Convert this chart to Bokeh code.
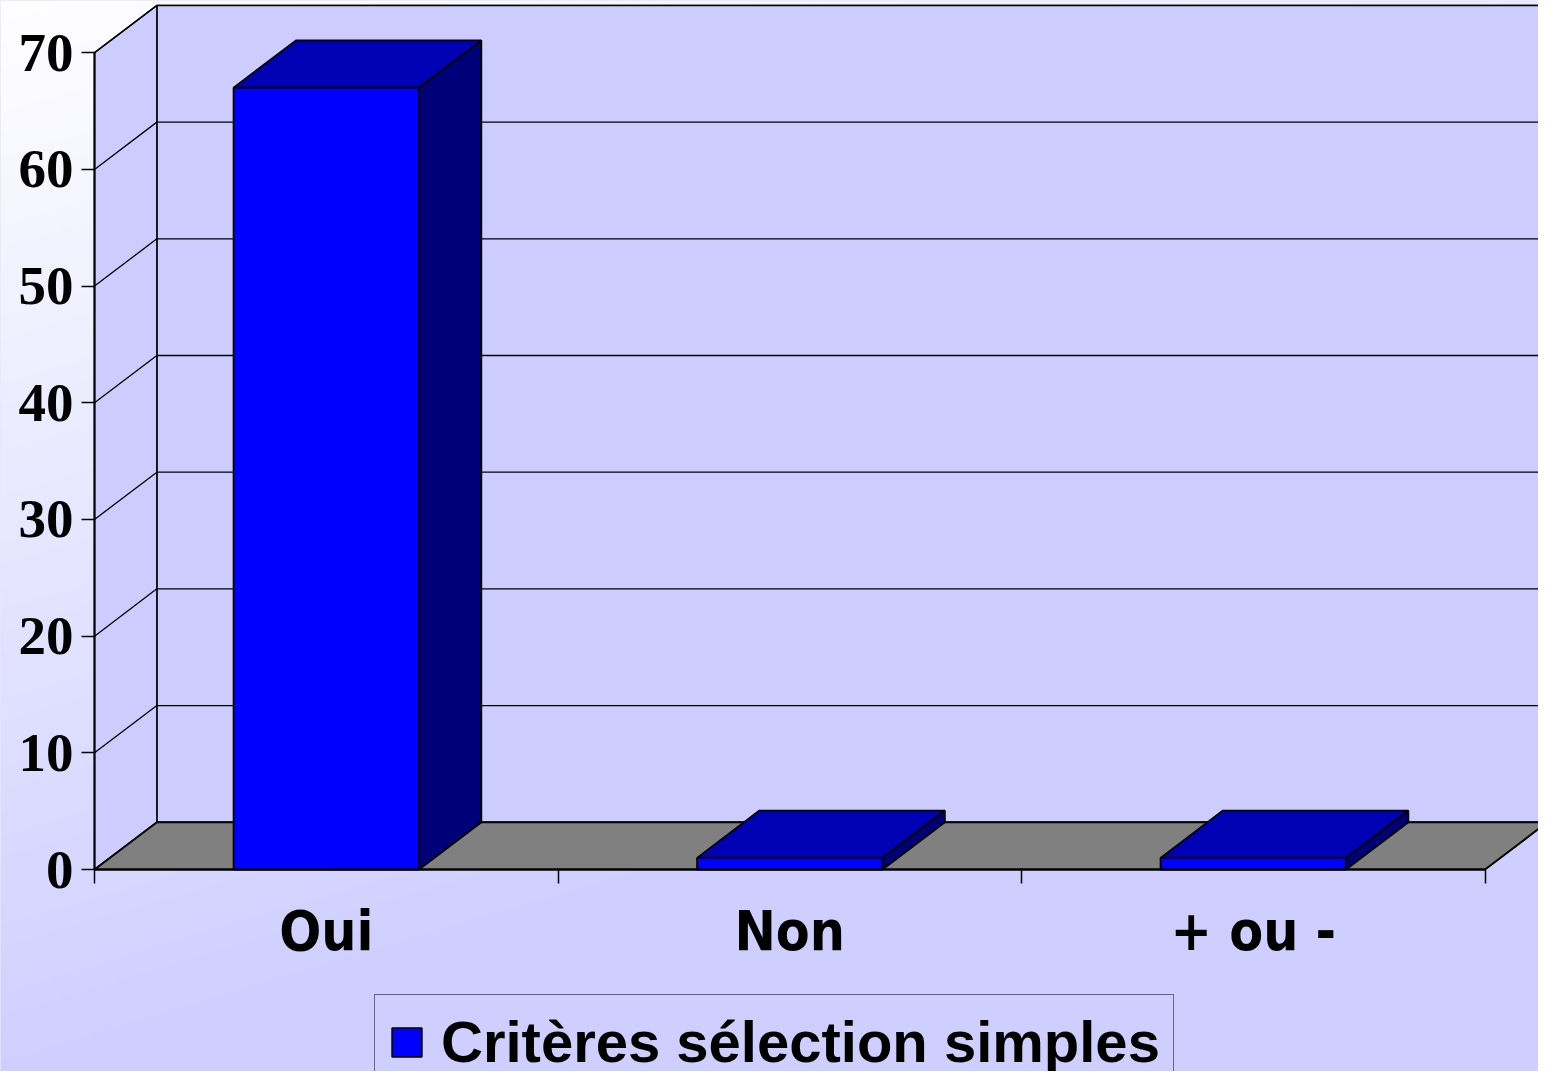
import numpy as np
from bokeh.plotting import figure
from bokeh.models import (Range1d, LinearAxis, FixedTicker, Legend, LegendItem,
                          ColumnDataSource)
from bokeh.embed import file_html
from bokeh.resources import INLINE

# ---------------- data ----------------
categories = ["Oui", "Non", "+ ou -"]
values = [67, 1, 1]
series_name = "Critères sélection simples"
y_ticks = [0, 10, 20, 30, 40, 50, 60, 70]
y_max = 70

# ---------------- geometry (in data units) ----------------
W, H = 1538, 1071          # canvas
RW, RH = 1554, 1087        # reference picture size
px_x = 1405 / 3.0          # reference pixels per category
px_y = 829 / 70.0          # reference pixels per value unit
x_start = (0 - 95) / px_x
x_end = (RW - 95) / px_x
y_top = 882 / px_y
y_start = (882 - RH) / px_y
dx = 63 / px_x             # 3D depth offset
dy = 48 / px_y
ncat = len(categories)
bar_lo, bar_hi = 0.3, 0.7

p = figure(width=W, height=H, x_range=Range1d(x_start, x_end), y_range=Range1d(y_start, y_top),
           x_axis_type=None, y_axis_type=None, toolbar_location=None, output_backend="svg",
           min_border=0, outline_line_color=None, background_fill_color="#D0D0FF",
           border_fill_color="#D0D0FF")

# ---------------- background gradient ----------------
gh, gw = 272, 389
rows = np.arange(gh)
cols = np.arange(gw)
ref_y = (gh - 1 - rows + 0.5) * (RH / gh)
ref_x = (cols + 0.5) * (RW / gw)
t = np.clip((ref_y[:, None] + 0.3 * ref_x[None, :]) / 1100.0, 0, 1)
rg = (255 - t * (255 - 207)).astype(np.uint8)
img = np.empty((gh, gw), dtype=np.uint32)
view = img.view(dtype=np.uint8).reshape((gh, gw, 4))
view[..., 0] = rg
view[..., 1] = rg
view[..., 2] = 255
view[..., 3] = 255
p.image_rgba(image=[img], x=x_start, y=y_start, dw=x_end - x_start, dh=y_top - y_start)

wall = "#CCCCFF"
# back wall
p.patch([dx, x_end + 1, x_end + 1, dx], [dy, dy, y_max + dy, y_max + dy],
        fill_color=wall, line_color="black", line_width=1.5)
# side wall
p.patch([0, 0, dx, dx], [0, y_max, y_max + dy, dy],
        fill_color=wall, line_color="black", line_width=1.5)
# floor
p.patch([0, ncat, ncat + dx, dx], [0, 0, dy, dy],
        fill_color="#808080", line_color="black", line_width=2)

# gridlines on walls
gx, gy = [], []
for v in y_ticks[1:]:
    gx.append([0, dx, x_end + 1])
    gy.append([v, v + dy, v + dy])
p.multi_line(gx, gy, line_color="black", line_width=1.3)

# ---------------- 3D bars ----------------
left = [i + bar_lo for i in range(ncat)]
right = [i + bar_hi for i in range(ncat)]
side_xs = [[r, r + dx, r + dx, r] for r in right]
side_ys = [[0, dy, v + dy, v] for v in values]
top_xs = [[l, r, r + dx, l + dx] for l, r in zip(left, right)]
top_ys = [[v, v, v + dy, v + dy] for v in values]
p.patches(side_xs, side_ys, fill_color="#000078", line_color="black", line_width=1.8)
p.patches(top_xs, top_ys, fill_color="#0000B4", line_color="black", line_width=1.8)
src = ColumnDataSource(dict(left=left, right=right, bottom=[0] * ncat, top=values))
front = p.quad(left="left", right="right", bottom="bottom", top="top", source=src,
               fill_color="#0000FF", line_color="black", line_width=1.8)

# ---------------- axes ----------------
yaxis = LinearAxis(fixed_location=0, bounds=(0, y_max), ticker=FixedTicker(ticks=y_ticks),
                   axis_line_width=2, major_tick_line_width=1.5, major_tick_out=13, major_tick_in=0,
                   minor_tick_out=0, minor_tick_in=0,
                   major_label_text_font="Liberation Serif", major_label_text_font_style="bold",
                   major_label_text_font_size="55px", major_label_standoff=8,
                   major_label_text_color="black")
p.add_layout(yaxis, "left")

xaxis = LinearAxis(fixed_location=0, bounds=(0, ncat), ticker=FixedTicker(ticks=list(range(ncat + 1))),
                   axis_line_width=2, major_tick_line_width=1.5, major_tick_out=14, major_tick_in=0,
                   minor_tick_out=0, minor_tick_in=0,
                   major_label_overrides={float(i): "" for i in range(ncat + 1)})
p.add_layout(xaxis, "below")

xlab = LinearAxis(fixed_location=0, ticker=FixedTicker(ticks=[i + 0.5 for i in range(ncat)]),
                  axis_line_color=None, major_tick_line_color=None, minor_tick_line_color=None,
                  major_label_overrides={i + 0.5: c for i, c in enumerate(categories)},
                  major_label_text_font="DejaVu Sans Condensed, DejaVu Sans",
                  major_label_text_font_style="bold", major_label_text_font_size="55px",
                  major_label_standoff=23, major_label_text_color="black")
p.add_layout(xlab, "below")

# ---------------- legend ----------------
legend = Legend(items=[LegendItem(label=series_name, renderers=[front])],
                location=(374, -18), orientation="vertical",
                label_text_font="Liberation Sans", label_text_font_style="bold",
                label_text_font_size="58px", label_text_color="black",
                glyph_width=37, glyph_height=36, label_standoff=16, padding=13, margin=0,
                border_line_color="black", border_line_width=1.5,
                background_fill_color="#CFCFFF", background_fill_alpha=1)
p.add_layout(legend)

open("out.html", "w").write(file_html(p, INLINE))
